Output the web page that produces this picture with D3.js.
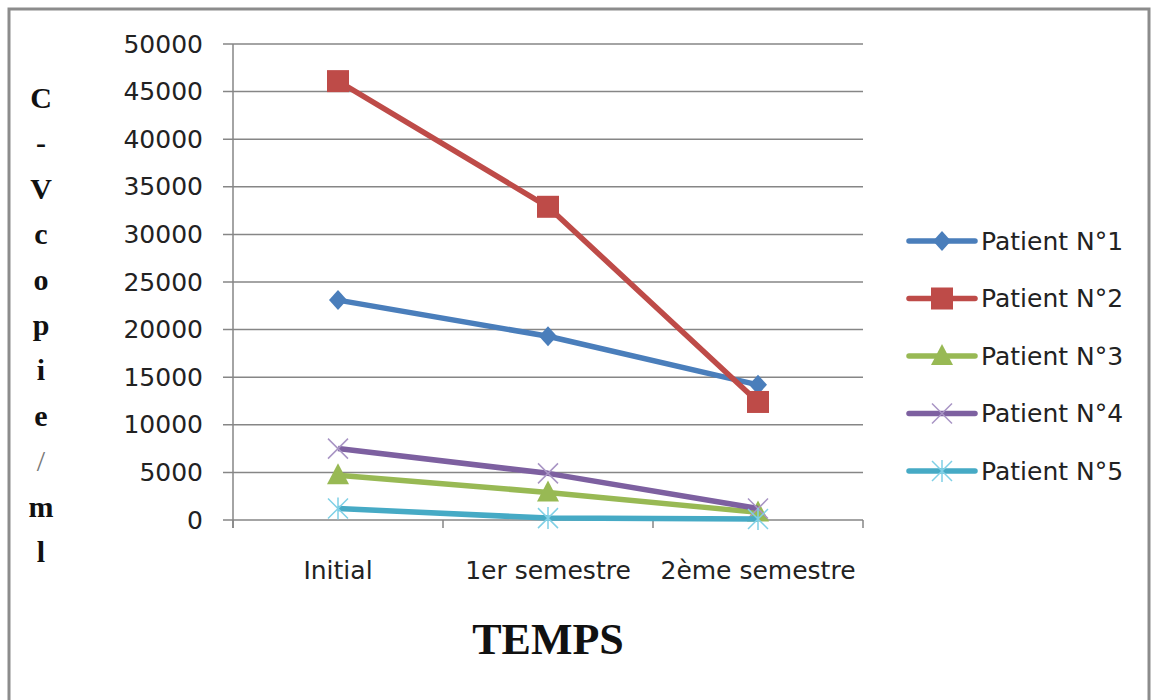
<!DOCTYPE html>
<html>
<head>
<meta charset="utf-8">
<script src="https://cdn.jsdelivr.net/npm/d3@7"></script>
<style>
  body { margin: 0; background: #fff; }
  text { font-family: "DejaVu Sans", sans-serif; }
</style>
</head>
<body>
<div id="chart"></div>
<script>
// data
var categories = ["Initial", "1er semestre", "2ème semestre"];
var seriesNames = ["Patient N°1", "Patient N°2", "Patient N°3", "Patient N°4", "Patient N°5"];
var patient1 = [23100, 19300, 14200];
var patient2 = [46100, 32900, 12400];
var patient3 = [4700, 2900, 800];
var patient4 = [7500, 4900, 1200];
var patient5 = [1200, 200, 100];
var yTicks = [0, 5000, 10000, 15000, 20000, 25000, 30000, 35000, 40000, 45000, 50000];
var yTitle = ["C", "-", "V", "c", "o", "p", "i", "e", "/", "m", "l"];

var colors = ["#4a7ebb", "#be4b48", "#98b954", "#7d60a0", "#46aac5"];
var markerColors = ["#4a7ebb", "#be4b48", "#98b954", "#a894c4", "#7fd0e6"];
var markers = ["diamond", "square", "triangle", "x", "star"];
var allSeries = [patient1, patient2, patient3, patient4, patient5];

var W = 1156, H = 700;
var margin = {top: 44, left: 233, right: 293, bottom: 180};
var width = W - margin.left - margin.right,
    height = H - margin.top - margin.bottom;

var svg = d3.select("#chart").append("svg")
  .attr("width", W).attr("height", H);

// outer frame
svg.append("rect")
  .attr("x", 9).attr("y", 9).attr("width", 1140).attr("height", 700)
  .attr("fill", "none").attr("stroke", "#8c8c8c").attr("stroke-width", 3);

var g = svg.append("g")
  .attr("transform", "translate(" + margin.left + "," + margin.top + ")");

var x = d3.scaleBand().domain(categories).range([0, width]);
var y = d3.scaleLinear().domain([0, 50000]).range([height, 0]);

// gridlines
g.selectAll(".grid").data(yTicks).enter().append("line")
  .attr("x1", -10).attr("x2", width)
  .attr("y1", function(d) { return y(d); })
  .attr("y2", function(d) { return y(d); })
  .attr("stroke", "#868686").attr("stroke-width", 1.5);

// y axis
var yAxis = g.append("g")
  .call(d3.axisLeft(y).tickValues(yTicks).tickFormat(d3.format("d")).tickSize(0).tickPadding(30));
yAxis.select(".domain").remove();
yAxis.selectAll("text")
  .attr("font-size", 25).attr("fill", "#222")
  .style("font-family", "'DejaVu Sans', sans-serif");

g.append("line")
  .attr("x1", 0).attr("x2", 0).attr("y1", 0).attr("y2", height + 8)
  .attr("stroke", "#868686").attr("stroke-width", 1.5);

// x axis
var xAxis = g.append("g")
  .attr("transform", "translate(0," + height + ")")
  .call(d3.axisBottom(x).tickSize(0).tickPadding(41));
xAxis.select(".domain").remove();
xAxis.selectAll("text")
  .attr("font-size", 25).attr("fill", "#222")
  .style("font-family", "'DejaVu Sans', sans-serif");

var bounds = [0].concat(categories.map(function(c) { return x(c) + x.bandwidth(); }));
g.selectAll(".xtick").data(bounds).enter().append("line")
  .attr("x1", function(d) { return d; }).attr("x2", function(d) { return d; })
  .attr("y1", height).attr("y2", height + 8)
  .attr("stroke", "#868686").attr("stroke-width", 1.5);

function cx(i) { return x(categories[i]) + x.bandwidth() / 2; }

function drawMarker(sel, type, color, px, py) {
  if (type === "diamond") {
    sel.append("path")
      .attr("d", "M0,-10L9,0L0,10L-9,0Z")
      .attr("transform", "translate(" + px + "," + py + ")")
      .attr("fill", color);
  } else if (type === "square") {
    sel.append("rect")
      .attr("x", px - 11).attr("y", py - 11).attr("width", 22).attr("height", 22)
      .attr("fill", color);
  } else if (type === "triangle") {
    sel.append("path")
      .attr("d", "M0,-12L11,9L-11,9Z")
      .attr("transform", "translate(" + px + "," + py + ")")
      .attr("fill", color);
  } else if (type === "x") {
    sel.append("path")
      .attr("d", "M-10,-10L10,10M-10,10L10,-10")
      .attr("transform", "translate(" + px + "," + py + ")")
      .attr("stroke", color).attr("stroke-width", 1.5);
  } else {
    sel.append("path")
      .attr("d", "M-10,-10L10,10M-10,10L10,-10M0,-11L0,11")
      .attr("transform", "translate(" + px + "," + py + ")")
      .attr("stroke", color).attr("stroke-width", 1.5);
  }
}

var line = d3.line()
  .x(function(d, i) { return cx(i); })
  .y(function(d) { return y(d); });

allSeries.forEach(function(s, k) {
  var sg = g.append("g");
  sg.append("path")
    .datum(s)
    .attr("d", line)
    .attr("fill", "none")
    .attr("stroke", colors[k])
    .attr("stroke-width", 5.5)
    .attr("stroke-linejoin", "round");
  s.forEach(function(v, i) {
    drawMarker(sg, markers[k], markerColors[k], cx(i), y(v));
  });
});

// legend
var legend = svg.append("g").attr("transform", "translate(909,241)");
seriesNames.forEach(function(name, k) {
  var lg = legend.append("g").attr("transform", "translate(0," + (k * 57.5) + ")");
  lg.append("line")
    .attr("x1", 0).attr("x2", 66).attr("y1", 0).attr("y2", 0)
    .attr("stroke", colors[k]).attr("stroke-width", 5.5).attr("stroke-linecap", "round");
  drawMarker(lg, markers[k], markerColors[k], 33, 0);
  lg.append("text")
    .attr("x", 72).attr("y", 0).attr("dy", "0.35em")
    .attr("font-size", 25).attr("fill", "#222")
    .text(name);
});

// y title: stacked letters
svg.selectAll(".ytitle").data(yTitle).enter().append("text")
  .attr("x", 41)
  .attr("y", function(d, i) { return 108 + i * 45.4; })
  .attr("text-anchor", "middle")
  .style("font-family", "'Liberation Serif', 'Times New Roman', serif")
  .attr("font-weight", function(d) { return d === "/" ? "normal" : "bold"; })
  .attr("font-size", 30)
  .attr("fill", function(d) { return d === "/" ? "#777" : "#111"; })
  .text(function(d) { return d; });

// x title
svg.append("text")
  .attr("x", 548).attr("y", 654)
  .attr("text-anchor", "middle")
  .style("font-family", "'Liberation Serif', 'Times New Roman', serif")
  .attr("font-weight", "bold").attr("font-size", 44)
  .attr("fill", "#111")
  .text("TEMPS");
</script>
</body>
</html>
